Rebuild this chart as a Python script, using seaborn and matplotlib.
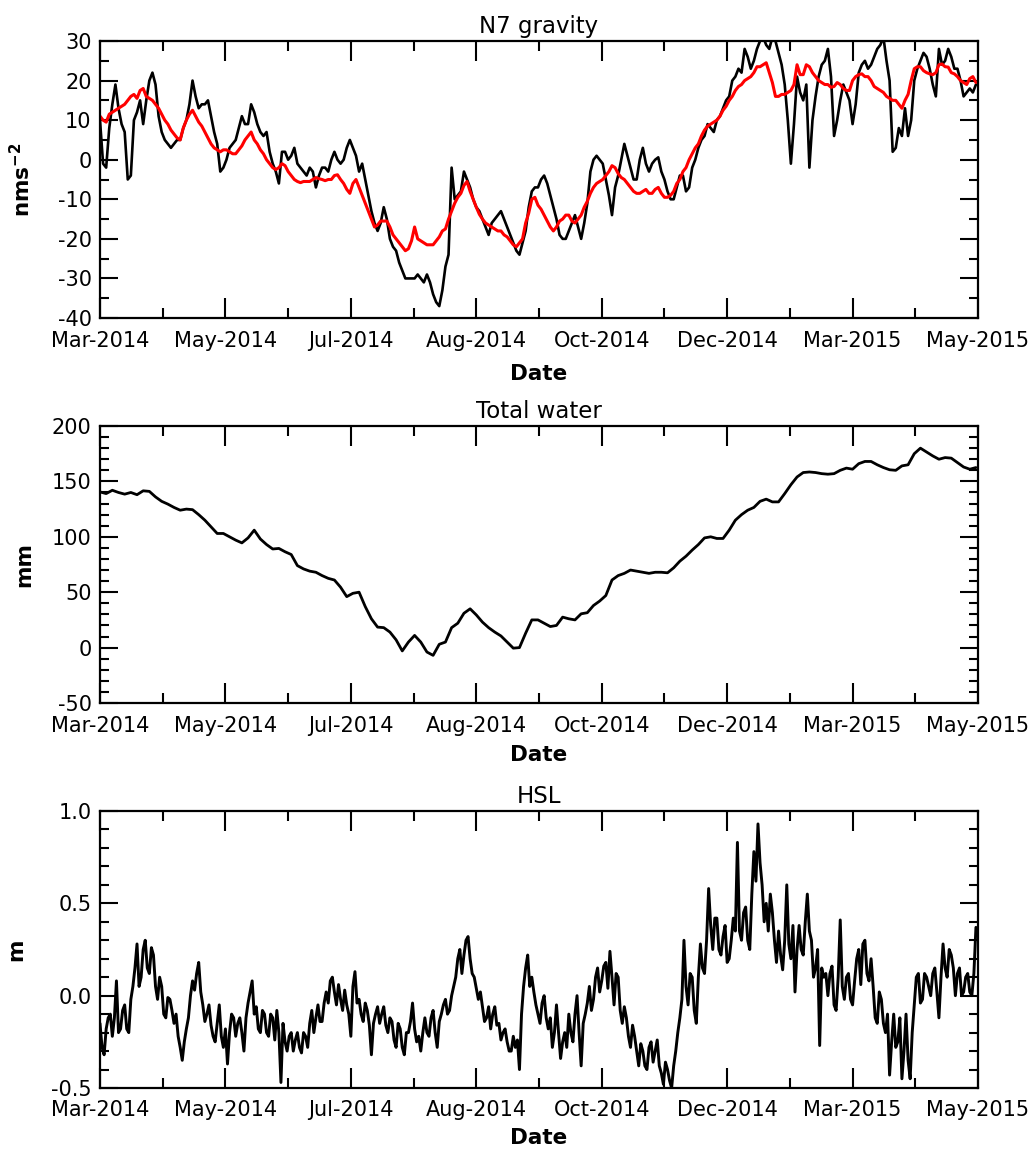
import numpy as np
import pandas as pd
import matplotlib
matplotlib.use("Agg")
import matplotlib.pyplot as plt
import matplotlib.dates as mdates
from matplotlib.ticker import MultipleLocator, FixedLocator
import seaborn as sns

# ---------------- data ----------------
start_date = "2014-03-01"
tick_interval_days = 61
xtick_labels = ["Mar-2014", "May-2014", "Jul-2014", "Aug-2014",
                "Oct-2014", "Dec-2014", "Mar-2015", "May-2015"]

# N7 gravity, observed (black): days 0, 3, 6, ...
gravity_obs_a = [
    10, -2, 14, 13, 7, -4, 12, 9, 20, 19,
    7, 4, 4, 5, 10, 20, 13, 14, 11, 4,
    -2, 3, 5, 11, 9, 12, 7, 7, -1, -6,
    2, 1, -1, -3, -2, -7, -2, -3, 2, -1,
    3, 3, -3, -5, -13, -18, -12, -20, -23, -28,
    -30, -30, -30, -29, -34, -37, -27, -2, -9, -3,
    -7, -12, -15, -19, -15, -13, -17, -21, -24, -18,
    -8, -7, -4, -9, -15, -20, -18, -14, -20, -11,
    0, 0, -5, -14, -4, 4, -2, -5, 3, -3,
    0, -3, -8, -10, -4, -8, -2, 3, 6, 8,
    10, 13, 16, 21, 22, 26, 25, 30, 29, 31,
    27, 19, -1, 21, 15, -2, 16, 24, 28, 6,
    15, 17, 9, 22, 25, 24, 28, 31, 20, 3,
    6, 6, 20, 25, 26, 19, 28, 25, 26, 23,
    16, 18, 19,
]
# N7 gravity, observed (black): days 1.5, 4.5, 7.5, ...
gravity_obs_b = [
    -1, 8, 19, 9, -5, 10, 15, 15, 22, 11,
    5, 3, 5, 8, 14, 16, 14, 15, 7, -3,
    0, 4, 8, 9, 14, 9, 6, 2, -3, 2,
    0, 3, -2, -4, -3, -4, -2, 0, 0, 0,
    5, 1, -1, -9, -16, -16, -15, -22, -26, -30,
    -30, -29, -31, -31, -36, -33, -24, -10, -8, -5,
    -10, -13, -17, -16, -14, -15, -19, -23, -21, -12,
    -7, -5, -6, -12, -19, -20, -16, -17, -16, -3,
    1, -1, -9, -7, 0, 1, -5, 0, -1, -1,
    0.6, -5, -10, -7, -4, -7, 0, 5, 9, 7,
    11, 15, 20, 23, 28, 23, 28, 31, 28, 30,
    24, 10, 9, 17, 19, 10, 21, 25, 21, 10,
    19, 15, 14, 24, 23, 26, 29, 25, 2, 8,
    13, 10, 23, 27, 23, 16, 24, 28, 23, 20,
    17, 17,
]
# N7 gravity, modelled (red): days 0, 3, 6, ...
gravity_model_a = [
    11, 9.5, 12, 13, 14, 16, 15.5, 18, 15.5, 14,
    11.5, 9, 6.5, 5, 10, 12.5, 9.5, 7, 4, 2.5,
    2.5, 2, 1.5, 3.5, 6, 5, 2.5, 0, -2, -2,
    -1.5, -4, -5.5, -5.5, -5.5, -4.5, -5, -5, -4, -5,
    -7.5, -6, -7, -11, -15, -16.5, -15.5, -17, -20, -22,
    -22.5, -17, -20.5, -21.5, -21.5, -19.5, -17.5, -13, -9.5, -6.5,
    -8, -12, -15, -16.5, -17.5, -18, -19.5, -21.5, -21, -16,
    -10, -11.5, -14, -17, -17, -15, -14, -16, -14, -10.5,
    -7, -5.5, -4, -1.5, -3.5, -5, -7, -8.5, -8, -8.5,
    -7.5, -8.5, -9.5, -8, -5, -2, 1.5, 4, 7.5, 9,
    10, 12.5, 15, 17.5, 19, 20.5, 22, 23.5, 24.5, 19.5,
    16, 16.5, 17.5, 24, 21.5, 23.5, 21, 19.5, 19, 18.5,
    19, 17.5, 20, 21.5, 21, 20, 18, 17, 15.5, 15,
    13, 16.5, 23, 23.5, 22, 21.5, 24, 23.5, 22, 21,
    19.5, 20.5, 19.5,
]
# N7 gravity, modelled (red): days 1.5, 4.5, 7.5, ...
gravity_model_b = [
    10, 11.5, 12.5, 13.5, 15, 16.5, 17.5, 16, 15, 13,
    10, 7.5, 5.5, 8, 11.5, 11, 8.5, 5.5, 3, 2,
    2.5, 1.5, 2.5, 5, 7, 4, 1.5, -1, -2.5, -1,
    -3, -5, -5.8, -5.5, -5, -4.8, -5.3, -5, -3.8, -6,
    -8.5, -5, -9, -13, -17, -15.5, -15.5, -19, -21, -23,
    -20.5, -20, -21, -21.5, -20.5, -18, -15, -11, -8.5, -5.5,
    -10, -13.8, -16, -17, -18, -19, -20.5, -22, -20, -13.5,
    -9.5, -12.5, -15.5, -18, -15.5, -14, -15.5, -15, -12, -8.5,
    -6, -5, -3, -2, -4.5, -6, -8, -8.5, -7.5, -8.5,
    -7, -9.5, -9, -6, -3, 0, 3, 6, 8.5, 9.5,
    11, 13.5, 16, 18.5, 20, 21, 23.5, 24, 22, 16,
    16.5, 17, 19, 21.5, 24, 22, 20, 19, 18.3, 19.5,
    18, 17.5, 21, 21.7, 21, 18.5, 17.5, 16, 15, 14,
    15, 20, 23.5, 22.5, 21.7, 22, 24.2, 23.4, 21.7, 20,
    19, 21,
]
# Total water (mm): days 0, 3, 6, ...
total_water = [
    140.5, 139, 142, 140, 138.5, 140, 138, 141.5, 141, 136,
    132, 129.5, 126.5, 124, 125, 124.5, 120, 115, 109, 103,
    103, 100, 97, 94.5, 99, 106, 98, 93, 89, 89.5,
    86.5, 84, 74, 71, 69, 68, 65, 62.5, 61, 54.5,
    46, 49, 50, 37, 26, 18.5, 18, 14, 7, -3,
    5, 11, 5, -4, -7, 3, 5, 18, 22, 31,
    35, 29.5, 23, 18, 14, 10.5, 5, -0.5, 0, 13,
    25, 25, 22, 19, 20, 27.5, 26, 25, 30.5, 31.5,
    38, 42, 47, 61, 65, 67, 70, 69, 68, 67,
    68, 68, 67.5, 72, 78, 82.5, 88, 93, 99, 100,
    98.5, 98.5, 106, 115, 120, 124, 126.5, 132, 134, 131.5,
    131.5, 139, 147, 154, 158, 158.5, 158, 157, 156.5, 157,
    160, 162, 161, 166, 168, 168, 165, 162.5, 160.5, 160,
    164, 165, 175, 180, 176.5, 173, 170, 171.5, 171, 167,
    163, 161, 162.5,
]
# HSL (m): days 0, 2, 4, ...
hsl_a = [
    -0.15, -0.32, -0.12, -0.22, 0.08, -0.18, -0.05, -0.2, 0.05, 0.28,
    0.1, 0.3, 0.12, 0.22, -0.02, 0.05, -0.12, -0.02, -0.15, -0.22,
    -0.35, -0.18, 0.0, 0.03, 0.18, -0.05, -0.1, -0.16, -0.25, -0.05,
    -0.28, -0.37, -0.1, -0.22, -0.12, -0.3, -0.04, 0.08, -0.06, -0.2,
    -0.1, -0.22, -0.12, -0.08, -0.47, -0.25, -0.22, -0.3, -0.2, -0.31,
    -0.22, -0.15, -0.2, -0.05, -0.14, 0.02, 0.08, 0.02, 0.06, -0.08,
    -0.05, -0.22, 0.13, -0.02, -0.14, -0.08, -0.32, -0.1, -0.15, -0.06,
    -0.2, -0.14, -0.28, -0.18, -0.32, -0.2, -0.04, -0.25, -0.3, -0.12,
    -0.22, -0.08, -0.28, -0.1, -0.02, -0.08, 0.05, 0.2, 0.12, 0.3,
    0.2, 0.1, -0.02, -0.06, -0.12, -0.18, -0.06, -0.15, -0.2, -0.25,
    -0.3, -0.28, -0.4, 0.05, 0.22, 0.1, -0.05, -0.15, 0.0, -0.18,
    -0.28, -0.05, -0.34, -0.2, -0.1, -0.25, 0.0, -0.38, -0.1, 0.05,
    -0.02, 0.15, 0.08, 0.18, 0.24, -0.05, 0.1, -0.15, -0.12, -0.28,
    -0.22, -0.38, -0.3, -0.4, -0.25, -0.3, -0.38, -0.48, -0.4, -0.5,
    -0.3, -0.12, 0.3, -0.05, 0.1, -0.15, 0.28, 0.12, 0.58, 0.25,
    0.42, 0.22, 0.38, 0.2, 0.42, 0.83, 0.3, 0.48, 0.25, 0.78,
    0.93, 0.6, 0.5, 0.55, 0.3, 0.35, 0.14, 0.6, 0.2, 0.02,
    0.38, 0.22, 0.55, 0.3, 0.15, -0.27, 0.1, 0.0, 0.16, -0.08,
    0.41, -0.02, 0.12, -0.05, 0.2, 0.06, 0.3, 0.08, 0.05, -0.15,
    -0.02, -0.2, -0.43, -0.1, -0.25, -0.45, -0.1, -0.45, -0.05, 0.12,
    -0.02, 0.1, 0.0, 0.15, -0.12, 0.28, 0.1, 0.22, 0.0, 0.15,
    0.02, 0.12, 0.0, 0.37,
]
# HSL (m): days 1, 3, 5, ...
hsl_b = [
    -0.28, -0.18, -0.1, -0.12, -0.2, -0.08, -0.18, -0.02, 0.15, 0.05,
    0.25, 0.15, 0.26, 0.05, 0.1, -0.1, -0.01, -0.08, -0.1, -0.28,
    -0.25, -0.12, 0.08, 0.12, 0.02, -0.14, -0.05, -0.22, -0.15, -0.22,
    -0.18, -0.2, -0.12, -0.15, -0.2, -0.12, 0.02, -0.1, -0.18, -0.08,
    -0.2, -0.1, -0.24, -0.2, -0.15, -0.3, -0.2, -0.24, -0.28, -0.2,
    -0.28, -0.08, -0.12, -0.14, -0.04, -0.04, 0.1, -0.05, -0.02, 0.03,
    -0.1, 0.05, -0.04, -0.1, -0.04, -0.16, -0.15, -0.06, -0.1, -0.16,
    -0.12, -0.24, -0.15, -0.28, -0.2, -0.14, -0.18, -0.22, -0.2, -0.2,
    -0.12, -0.2, -0.14, -0.05, -0.1, 0.0, 0.1, 0.25, 0.22, 0.32,
    0.12, 0.04, 0.02, -0.14, -0.06, -0.1, -0.16, -0.24, -0.18, -0.3,
    -0.22, -0.24, -0.1, 0.15, 0.05, 0.02, -0.1, -0.04, -0.12, -0.12,
    -0.2, -0.2, -0.25, -0.28, -0.2, -0.1, -0.2, -0.15, -0.04, -0.08,
    0.1, 0.02, 0.16, 0.04, 0.1, 0.12, -0.08, -0.06, -0.22, -0.16,
    -0.3, -0.26, -0.38, -0.28, -0.36, -0.24, -0.42, -0.36, -0.46, -0.38,
    -0.2, -0.02, 0.05, 0.12, -0.08, 0.1, 0.15, 0.3, 0.38, 0.42,
    0.25, 0.32, 0.18, 0.3, 0.35, 0.35, 0.45, 0.3, 0.55, 0.62,
    0.72, 0.4, 0.35, 0.45, 0.18, 0.22, 0.3, 0.28, 0.38, 0.25,
    0.25, 0.4, 0.35, 0.1, 0.25, 0.15, 0.12, 0.12, -0.05, 0.1,
    0.05, 0.1, -0.02, 0.08, 0.25, 0.28, 0.12, 0.2, -0.12, 0.02,
    -0.15, -0.1, -0.25, -0.28, -0.12, -0.3, -0.35, -0.2, 0.1, -0.04,
    0.12, 0.05, 0.12, 0.02, 0.1, 0.15, 0.25, 0.15, 0.12, 0.0,
    0.1, 0.02, 0.12,
]

grav_yticks = [-40, -30, -20, -10, 0, 10, 20, 30]
grav_ylabels = ["-40", "-30", "-20", "-10", "0", "10", "20", "30"]
water_yticks = [-50, 0, 50, 100, 150, 200]
water_ylabels = ["-50", "0", "50", "100", "150", "200"]
hsl_yticks = [-0.5, 0.0, 0.5, 1.0]
hsl_ylabels = ["-0.5", "0.0", "0.5", "1.0"]

titles = ["N7 gravity", "Total water", "HSL"]
ylabels = [r"$\mathbf{nms^{-2}}$", "mm", "m"]
xlabel = "Date"

# ---------------- build frames ----------------
t0 = pd.Timestamp(start_date)


def frame(values, step, offset=0.0):
    d = t0 + pd.to_timedelta(offset + np.arange(len(values)) * step, unit="D")
    return pd.DataFrame({"date": d, "value": values})


def merged(a, b, step, offset_b):
    df = pd.concat([frame(a, step), frame(b, step, offset_b)])
    return df.sort_values("date").reset_index(drop=True)


df_obs = merged(gravity_obs_a, gravity_obs_b, 3, 1.5)
df_mod = merged(gravity_model_a, gravity_model_b, 3, 1.5)
df_water = frame(total_water, 3)
df_hsl = merged(hsl_a, hsl_b, 2, 1)

# ---------------- style ----------------
sns.set_theme(style="ticks")
plt.rcParams["font.family"] = ["DejaVu Sans"]
plt.rcParams["axes.unicode_minus"] = False
for k in ["text.color", "axes.labelcolor", "xtick.color", "ytick.color"]:
    plt.rcParams[k] = "black"

fig = plt.figure(figsize=(10.35, 11.49), dpi=100)
W, H = 1035, 1149
left, right = 100, 978
panel_tops = [41, 426, 811]
panel_h = 277
axes = []
for top in panel_tops:
    axes.append(fig.add_axes([left / W, 1 - (top + panel_h) / H,
                              (right - left) / W, panel_h / H]))

n_int = len(xtick_labels) - 1
major_dates = [t0 + pd.Timedelta(days=k * tick_interval_days) for k in range(n_int + 1)]
minor_dates = [t0 + pd.Timedelta(days=k * tick_interval_days + tick_interval_days / 2)
               for k in range(n_int)]
major_num = mdates.date2num(major_dates)
minor_num = mdates.date2num(minor_dates)

FS = 15


def style_axis(ax, yticks, ylabs, yminor, ylim, title, ylab, ylab_x, xlab_y):
    ax.set_xlim(major_num[0], major_num[-1])
    ax.xaxis.set_major_locator(FixedLocator(major_num))
    ax.xaxis.set_minor_locator(FixedLocator(minor_num))
    ax.set_xticklabels(xtick_labels)
    ax.set_ylim(*ylim)
    ax.set_yticks(yticks)
    ax.set_yticklabels(ylabs)
    ax.yaxis.set_minor_locator(MultipleLocator(yminor))
    ax.tick_params(axis="x", which="major", direction="in", length=14.5, width=1.5,
                   top=True, bottom=True, pad=9, labelsize=FS)
    ax.tick_params(axis="x", which="minor", direction="in", length=7, width=1.5,
                   top=True, bottom=True)
    ax.tick_params(axis="y", which="major", direction="in", length=13, width=1.5,
                   left=True, right=True, pad=6, labelsize=FS)
    ax.tick_params(axis="y", which="minor", direction="in", length=6.5, width=1.5,
                   left=True, right=True)
    for s in ax.spines.values():
        s.set_visible(True)
        s.set_linewidth(1.6)
        s.set_color("black")
    ax.set_title(title, fontsize=16.5, pad=6, color="black")
    ax.set_xlabel(xlabel, fontsize=15.5, fontweight="bold")
    ax.xaxis.set_label_coords(0.5, xlab_y)
    ax.set_ylabel(ylab, fontsize=15.5, fontweight="bold")
    ax.yaxis.set_label_coords(ylab_x, 0.5)
    ax.grid(False)


# Panel 1: gravity
ax = axes[0]
sns.lineplot(data=df_obs, x="date", y="value", ax=ax, color="black",
             linewidth=1.9, estimator=None, sort=False)
sns.lineplot(data=df_mod, x="date", y="value", ax=ax, color="#ff0000",
             linewidth=2.2, estimator=None, sort=False)
style_axis(ax, grav_yticks, grav_ylabels, 5, (-40, 30), titles[0], ylabels[0],
           -0.075, -0.165)

# Panel 2: total water
ax = axes[1]
sns.lineplot(data=df_water, x="date", y="value", ax=ax, color="black",
             linewidth=2.0, estimator=None, sort=False)
style_axis(ax, water_yticks, water_ylabels, 10, (-50, 200), titles[1], ylabels[1],
           -0.075, -0.152)

# Panel 3: HSL
ax = axes[2]
sns.lineplot(data=df_hsl, x="date", y="value", ax=ax, color="black",
             linewidth=2.1, estimator=None, sort=False)
style_axis(ax, hsl_yticks, hsl_ylabels, 0.1, (-0.5, 1.0), titles[2], ylabels[2],
           -0.084, -0.145)

fig.savefig("out.png", dpi=100, facecolor="white")
